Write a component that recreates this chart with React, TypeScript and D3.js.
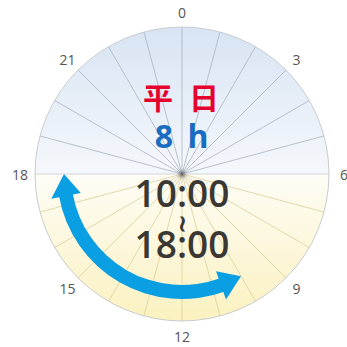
import React from "react";
import * as d3 from "d3";

const hourLabels = [0, 3, 6, 9, 12, 15, 18, 21];
const hourCount = 24;
const arrowStart = 10;
const arrowEnd = 18;
const titleText = ["平", "日"];
const durationText = ["8", "h"];
const rangeText = ["10:00", "~", "18:00"];

const W = 347;
const cx = 182;
const cy = 174;
const R = 147;
const labelR = 162;
const arrowR = 118;

export default function App() {
  const angle = d3.scaleLinear().domain([0, hourCount]).range([0, 2 * Math.PI]);
  const pt = (h: number, r: number): [number, number] => {
    const a = angle(h);
    return [cx + r * Math.sin(a), cy - r * Math.cos(a)];
  };
  const hours = d3.range(hourCount);

  const topHalf = d3.arc()({ innerRadius: 0, outerRadius: R, startAngle: -Math.PI / 2, endAngle: Math.PI / 2 }) as string;
  const botHalf = d3.arc()({ innerRadius: 0, outerRadius: R, startAngle: Math.PI / 2, endAngle: (3 * Math.PI) / 2 }) as string;

  const headLen = 22;
  const headW = 15;
  const shaftW = 14;
  const dH = headLen / arrowR / angle(1);
  const shaft = d3.arc()({
    innerRadius: arrowR - shaftW / 2,
    outerRadius: arrowR + shaftW / 2,
    startAngle: angle(arrowStart + dH - 0.05),
    endAngle: angle(arrowEnd - dH + 0.05),
  }) as string;
  const head = (tipH: number, baseH: number) => {
    const tip = pt(tipH, arrowR);
    const b1 = pt(baseH, arrowR - headW);
    const b2 = pt(baseH, arrowR + headW);
    const p = d3.path();
    p.moveTo(tip[0], tip[1]);
    p.lineTo(b1[0], b1[1]);
    p.lineTo(b2[0], b2[1]);
    p.closePath();
    return p.toString();
  };

  return (
    <svg width={W} height={W} style={{ position: "absolute", left: 0, top: 0 }}>
      <defs>
        <linearGradient id="gTop" x1="0" y1={-R} x2="0" y2={0} gradientUnits="userSpaceOnUse">
          <stop offset="0" stopColor="#d8e4f3" />
          <stop offset="1" stopColor="#f5f8fc" />
        </linearGradient>
        <linearGradient id="gBot" x1="0" y1={0} x2="0" y2={R} gradientUnits="userSpaceOnUse">
          <stop offset="0" stopColor="#fefdf6" />
          <stop offset="1" stopColor="#fbf1c0" />
        </linearGradient>
        <radialGradient id="gDot">
          <stop offset="0" stopColor="#555" />
          <stop offset="0.4" stopColor="#888" stopOpacity="0.7" />
          <stop offset="1" stopColor="#bbb" stopOpacity="0" />
        </radialGradient>
      </defs>
      <rect width={W} height={W} fill="#fff" />
      <path d={topHalf} fill="url(#gTop)" transform={`translate(${cx},${cy})`} />
      <path d={botHalf} fill="url(#gBot)" transform={`translate(${cx},${cy})`} />
      {hours.map((h) => {
        const [x, y] = pt(h, R);
        const upper = h < 6 || h > 18;
        const horiz = h === 6 || h === 18;
        return (
          <line
            key={h}
            x1={cx}
            y1={cy}
            x2={x}
            y2={y}
            stroke={horiz ? "#c8ccd2" : upper ? "#aab3c0" : "#d9cf9c"}
            strokeWidth={0.8}
          />
        );
      })}
      <circle cx={cx} cy={cy} r={R} fill="none" stroke="#c9ccd0" strokeWidth={1} />
      <circle cx={cx} cy={cy} r={6} fill="url(#gDot)" />
      {hourLabels.map((h) => {
        const [x, y] = pt(h, labelR);
        return (
          <text
            key={h}
            x={x}
            y={y}
            textAnchor="middle"
            dominantBaseline="central"
            fontFamily="'Open Sans', sans-serif"
            fontSize={14}
            fill="#555"
          >
            {h}
          </text>
        );
      })}
      <path d={shaft} fill="#0a9ee2" transform={`translate(${cx},${cy})`} />
      <path d={head(arrowEnd, arrowEnd - dH)} fill="#0a9ee2" />
      <path d={head(arrowStart, arrowStart + dH)} fill="#0a9ee2" />
      <g fontFamily="'Noto Sans CJK JP', sans-serif" fontWeight={700} fontSize={30} fill="#e5002d" textAnchor="middle">
        <text x={158} y={109}>{titleText[0]}</text>
        <text x={204} y={109}>{titleText[1]}</text>
      </g>
      <g fontFamily="'Open Sans', sans-serif" fontWeight={700} fontSize={32} fill="#1a6cc0" textAnchor="middle">
        <text x={164} y={148}>{durationText[0]}</text>
        <text x={198} y={148}>{durationText[1]}</text>
      </g>
      <g fontFamily="'Open Sans', sans-serif" fontWeight={600} fontSize={37} fill="#3b3833" textAnchor="middle">
        <text x={182} y={207}>{rangeText[0]}</text>
        <g transform="translate(182 224) rotate(90)">
          <text
            x={0}
            y={0}
            dy="0.33em"
            fontFamily="'DejaVu Sans', sans-serif"
            fontWeight={700}
            fontSize={24}
          >
            {rangeText[1]}
          </text>
        </g>
        <text x={182} y={258}>{rangeText[2]}</text>
      </g>
    </svg>
  );
}
